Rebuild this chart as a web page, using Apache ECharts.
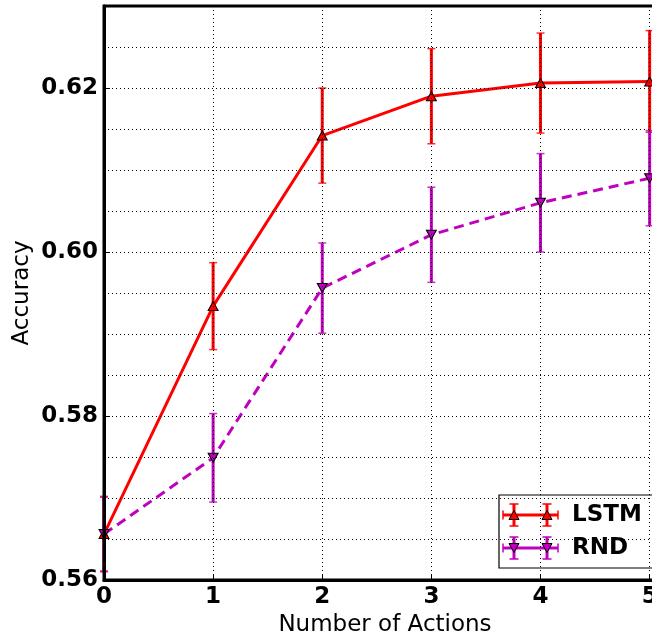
<!DOCTYPE html>
<html>
<head>
<meta charset="utf-8">
<style>
html,body{margin:0;padding:0;background:#fff;}
#chart{width:652px;height:638px;}
</style>
<script src="https://cdn.jsdelivr.net/npm/echarts@6/dist/echarts.min.js"></script>
</head>
<body>
<div id="chart"></div>
<script>
const xValues = [0, 1, 2, 3, 4, 5];
const lstmMean = [0.5656, 0.5934, 0.6142, 0.6190, 0.6206, 0.6208];
const lstmErr  = [0.0045, 0.0053, 0.0058, 0.0058, 0.0061, 0.0062];
const rndMean  = [0.5656, 0.5749, 0.5956, 0.6021, 0.6060, 0.6090];
const rndErr   = [0.0046, 0.0054, 0.0055, 0.0058, 0.0060, 0.0058];
const seriesNames = ['LSTM', 'RND'];
const xTitle = 'Number of Actions';
const yTitle = 'Accuracy';

const RED = '#ff0000';
const MAG = '#bf00bf';
const FONT = 'DejaVu Sans';

function errSeries(mean, err, color, z) {
  return {
    type: 'custom',
    z: z,
    silent: true,
    data: xValues.map((x, i) => [x, mean[i], err[i]]),
    renderItem: function (params, api) {
      const x = api.value(0), m = api.value(1), e = api.value(2);
      const top = api.coord([x, m + e]);
      const bot = api.coord([x, m - e]);
      const cw = 4;
      return {
        type: 'group',
        children: [
          {type: 'line', shape: {x1: top[0], y1: top[1], x2: bot[0], y2: bot[1]},
           style: {stroke: color, lineWidth: 3}},
          {type: 'line', shape: {x1: top[0] - cw, y1: top[1], x2: top[0] + cw, y2: top[1]},
           style: {stroke: color, lineWidth: 1.5, opacity: 0.8}},
          {type: 'line', shape: {x1: bot[0] - cw, y1: bot[1], x2: bot[0] + cw, y2: bot[1]},
           style: {stroke: color, lineWidth: 1.5, opacity: 0.8}}
        ]
      };
    }
  };
}

function legendEntry(y, color, rot, label) {
  const items = [];
  items.push({type: 'line', shape: {x1: 503, y1: y, x2: 558, y2: y},
    style: {stroke: color, lineWidth: 3}});
  items.push({type: 'line', shape: {x1: 503, y1: y - 4.5, x2: 503, y2: y + 4.5},
    style: {stroke: color, lineWidth: 1.5}});
  items.push({type: 'line', shape: {x1: 558, y1: y - 4.5, x2: 558, y2: y + 4.5},
    style: {stroke: color, lineWidth: 1.5}});
  [514, 547].forEach(cx => {
    items.push({type: 'line', shape: {x1: cx, y1: y - 11, x2: cx, y2: y + 11},
      style: {stroke: color, lineWidth: 3}});
    items.push({type: 'line', shape: {x1: cx - 4.5, y1: y - 11, x2: cx + 4.5, y2: y - 11},
      style: {stroke: color, lineWidth: 1.5}});
    items.push({type: 'line', shape: {x1: cx - 4.5, y1: y + 11, x2: cx + 4.5, y2: y + 11},
      style: {stroke: color, lineWidth: 1.5}});
    const pts = rot ? [[cx - 5, y - 4.5], [cx + 5, y - 4.5], [cx, y + 4.5]]
                    : [[cx - 5, y + 4.5], [cx + 5, y + 4.5], [cx, y - 4.5]];
    items.push({type: 'polygon', shape: {points: pts},
      style: {fill: color, stroke: '#000', lineWidth: 1}});
  });
  items.push({type: 'text', x: 572, y: y, style: {text: label, fill: '#000',
    font: 'bold 23px "DejaVu Sans"', textVerticalAlign: 'middle', textAlign: 'left'}});
  return items;
}

const chart = echarts.init(document.getElementById('chart'), null, {renderer: 'canvas'});
chart.setOption({
  animation: false,
  backgroundColor: '#fff',
  grid: {left: 104, right: -14, top: 6, bottom: 58, show: true,
    outerBoundsMode: 'none', containLabel: false,
    borderColor: '#000', borderWidth: 3, backgroundColor: 'transparent', z: 5},
  xAxis: {
    type: 'value', min: 0, max: 5.15, interval: 1, z: 5,
    name: xTitle, nameLocation: 'middle', nameGap: 34, nameMoveOverlap: false,
    nameTextStyle: {fontFamily: FONT, fontSize: 23, color: '#000'},
    axisLine: {show: true, lineStyle: {color: '#000', width: 3}},
    axisTick: {show: true, inside: true, length: 6, lineStyle: {color: '#000', width: 1}},
    axisLabel: {fontFamily: FONT, fontWeight: 'bold', fontSize: 23, color: '#000', margin: 6,
      formatter: v => (Math.abs(v - Math.round(v)) < 1e-6 ? String(Math.round(v)) : '')},
    splitLine: {show: true, lineStyle: {color: '#000', width: 1, type: [1, 3]}}
  },
  yAxis: {
    type: 'value', min: 0.56, max: 0.63, interval: 0.02, z: 5,
    name: yTitle, nameLocation: 'middle', nameGap: 70, nameRotate: 90, nameMoveOverlap: false,
    nameTextStyle: {fontFamily: FONT, fontSize: 23, color: '#000'},
    axisLine: {show: true, lineStyle: {color: '#000', width: 3}},
    axisTick: {show: true, inside: true, length: 6, lineStyle: {color: '#000', width: 1}},
    minorTick: {show: false, splitNumber: 4},
    minorSplitLine: {show: true, lineStyle: {color: '#000', width: 1, type: [1, 3]}},
    axisLabel: {fontFamily: FONT, fontWeight: 'bold', fontSize: 23, color: '#000', margin: 6,
      formatter: v => {
        const h = Math.round(v * 100);
        return (Math.abs(v * 100 - h) < 1e-6 && h % 2 === 0) ? v.toFixed(2) : '';
      }},
    splitLine: {show: true, lineStyle: {color: '#000', width: 1, type: [1, 3]}}
  },
  series: [
    {
      name: seriesNames[0], type: 'line', z: 2,
      data: xValues.map((x, i) => [x, lstmMean[i]]),
      lineStyle: {color: RED, width: 3},
      symbol: 'none'
    },
    errSeries(lstmMean, lstmErr, RED, 2),
    {
      name: seriesNames[0] + '_m', type: 'line', z: 3,
      data: xValues.map((x, i) => [x, lstmMean[i]]),
      lineStyle: {width: 0, opacity: 0},
      symbol: 'triangle', symbolSize: [10, 9], showAllSymbol: true,
      itemStyle: {color: RED, borderColor: '#000', borderWidth: 1, opacity: 1}
    },
    {
      name: seriesNames[1], type: 'line', z: 3,
      data: xValues.map((x, i) => [x, rndMean[i]]),
      lineStyle: {color: MAG, width: 3, type: [10, 6]},
      symbol: 'none'
    },
    errSeries(rndMean, rndErr, MAG, 3),
    {
      name: seriesNames[1] + '_m', type: 'line', z: 4,
      data: xValues.map((x, i) => [x, rndMean[i]]),
      lineStyle: {width: 0, opacity: 0},
      symbol: 'triangle', symbolRotate: 180, symbolSize: [10, 9], showAllSymbol: true,
      itemStyle: {color: MAG, borderColor: '#000', borderWidth: 1, opacity: 1}
    }
  ],
  graphic: [{
    type: 'group', z: 100,
    children: [
      {type: 'rect', shape: {x: 499, y: 495, width: 200, height: 73},
       style: {fill: '#fff', stroke: '#000', lineWidth: 1.2}}
    ].concat(legendEntry(515, RED, false, seriesNames[0]))
     .concat(legendEntry(548, MAG, true, seriesNames[1]))
  }]
});
</script>
</body>
</html>
